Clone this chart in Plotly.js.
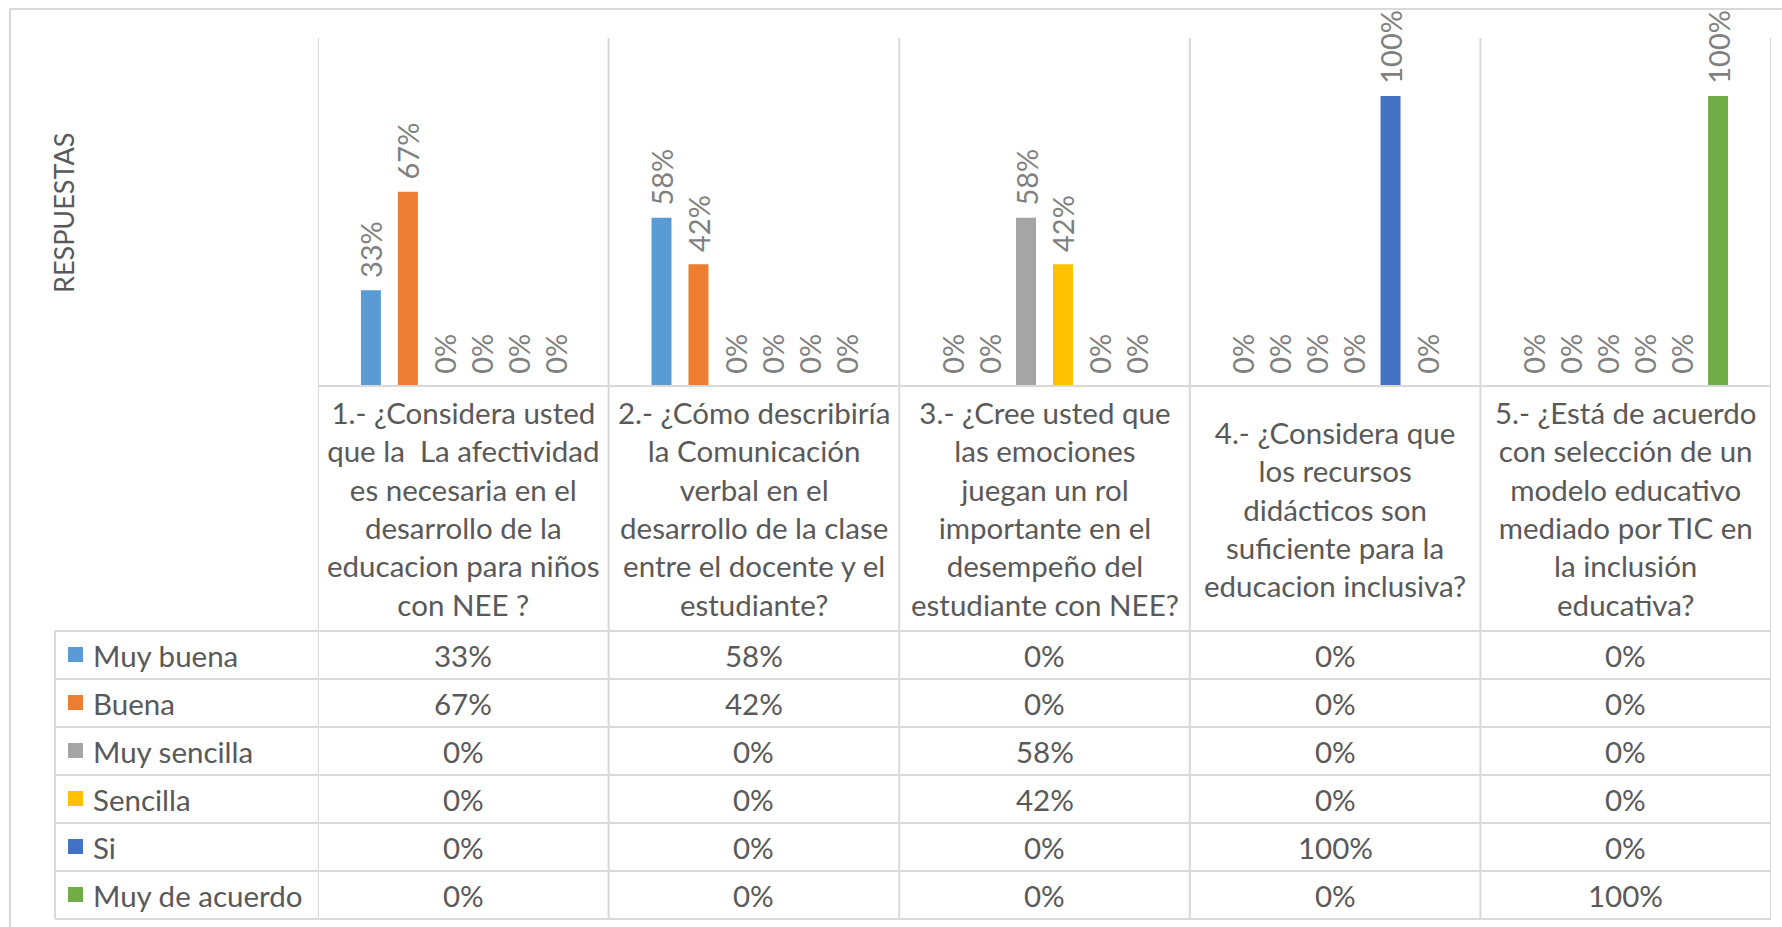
<!DOCTYPE html>
<html><head><meta charset="utf-8">
<script src="https://cdn.plot.ly/plotly-3.0.1.min.js"></script>
<style>html,body{margin:0;padding:0;background:#fff}#chart{width:1782px;height:927px}</style>
</head><body><div id="chart"></div>
<script>
// ---- data ----
const categories = [
  "1.- ¿Considera usted<br>que la  La afectividad<br>es necesaria en el<br>desarrollo de la<br>educacion para niños<br>con NEE ?",
  "2.- ¿Cómo describiría<br>la Comunicación<br>verbal en el<br>desarrollo de la clase<br>entre el docente y el<br>estudiante?",
  "3.- ¿Cree usted que<br>las emociones<br>juegan un rol<br>importante en el<br>desempeño del<br>estudiante con NEE?",
  "4.- ¿Considera que<br>los recursos<br>didácticos son<br>suficiente para la<br>educacion inclusiva?",
  "5.- ¿Está de acuerdo<br>con selección de un<br>modelo educativo<br>mediado por TIC en<br>la inclusión<br>educativa?"
];
const seriesNames = ["Muy buena", "Buena", "Muy sencilla", "Sencilla", "Si", "Muy de acuerdo"];
const muyBuena     = [0.33, 0.58, 0, 0, 0];
const buena        = [0.67, 0.42, 0, 0, 0];
const muySencilla  = [0, 0, 0.58, 0, 0];
const sencilla     = [0, 0, 0.42, 0, 0];
const si           = [0, 0, 0, 1, 0];
const muyDeAcuerdo = [0, 0, 0, 0, 1];
const seriesValues = [muyBuena, buena, muySencilla, sencilla, si, muyDeAcuerdo];
const seriesColors = ["#5B9BD5", "#ED7D31", "#A5A5A5", "#FFC000", "#4472C4", "#70AD47"];
const yTitle = "RESPUESTAS";

// ---- geometry helpers ----
const W = 1782, H = 927;
const px = x => x / W;
const py = y => 1 - y / H;
const FONT = "Lato, 'Liberation Sans', sans-serif";
const TXT = "#595959";
const GRID = "#D9D9D9";
const plotLeft = 318, plotRight = 1771, plotTop = 38, axisY = 386;
const headerCenter = 508.5;
const tableLeft = 55, rowTop0 = 631, rowH = 48;
const TFS = 29.5;

const fmt = v => Math.round(v * 100) + "%";

const traces = seriesNames.map((name, i) => ({
  type: "bar",
  name: name,
  x: categories,
  y: seriesValues[i],
  marker: {color: seriesColors[i]},
  text: seriesValues[i].map(fmt),
  texttemplate: "\u00a0\u200a%{text}",
  textposition: "outside",
  textangle: -90,
  constraintext: "none",
  cliponaxis: false,
  textfont: {family: FONT, size: 29, color: "#7F7F7F"},
  hoverinfo: "skip"
}));

const shapes = [];
const annotations = [];
const line = (x0, y0, x1, y1, xref) => shapes.push({
  type: "line", xref: xref || "paper", yref: "paper",
  x0: x0, y0: y0, x1: x1, y1: y1,
  line: {color: GRID, width: 2}
});

// outer chart border (top & left visible)
line(px(10), py(9), px(W), py(9));
line(px(10), py(9), px(10), 0);

// category separators
for (let i = 0; i <= categories.length; i++) {
  line(i - 0.5, py(plotTop), i - 0.5, py(rowTop0 + rowH * seriesNames.length), "x");
}
// axis line
line(px(plotLeft), py(axisY), px(plotRight), py(axisY));
// table horizontal lines
for (let r = 0; r <= seriesNames.length; r++) {
  const y = rowTop0 + r * rowH;
  line(px(tableLeft), py(y), px(plotRight), py(y));
}
// legend column left edge
line(px(tableLeft), py(rowTop0), px(tableLeft), py(rowTop0 + rowH * seriesNames.length));

// header labels
categories.forEach(c => annotations.push({
  x: c, xref: "x", y: py(headerCenter), yref: "paper",
  text: c, showarrow: false, align: "center", xanchor: "center", yanchor: "middle",
  font: {family: FONT, size: TFS, color: TXT}
}));

// table rows
seriesNames.forEach((name, r) => {
  const cy = rowTop0 + r * rowH + rowH / 2;
  shapes.push({
    type: "rect", xref: "paper", yref: "paper",
    x0: px(68), x1: px(83), y0: py(cy - 8), y1: py(cy + 7),
    fillcolor: seriesColors[r], line: {width: 0}
  });
  annotations.push({
    x: px(91), xref: "paper", y: py(cy), yref: "paper",
    text: name, showarrow: false, xanchor: "left", yanchor: "middle",
    font: {family: FONT, size: TFS, color: TXT}
  });
  categories.forEach((c, i) => annotations.push({
    x: c, xref: "x", y: py(cy), yref: "paper",
    text: fmt(seriesValues[r][i]), showarrow: false, xanchor: "center", yanchor: "middle",
    font: {family: FONT, size: TFS, color: TXT}
  }));
});

// axis title
annotations.push({
  x: px(63), xref: "paper", y: py(213), yref: "paper",
  text: yTitle, textangle: -90, showarrow: false, xanchor: "center", yanchor: "middle",
  font: {family: FONT, size: 27, color: TXT}
});

const layout = {
  width: W, height: H,
  margin: {l: 0, r: 0, t: 0, b: 0},
  paper_bgcolor: "#ffffff", plot_bgcolor: "#ffffff",
  showlegend: false,
  barmode: "group",
  bargap: 0.237,
  bargroupgap: 0.46,
  font: {family: FONT, color: TXT},
  xaxis: {
    domain: [px(plotLeft), px(plotRight)],
    range: [-0.5, categories.length - 0.5],
    showticklabels: false, showgrid: false, zeroline: false, showline: false, ticks: ""
  },
  yaxis: {
    domain: [py(axisY), py(plotTop)],
    range: [0, 1.2],
    showticklabels: false, showgrid: false, zeroline: false, showline: false, ticks: ""
  },
  shapes: shapes,
  annotations: annotations
};

Plotly.newPlot("chart", traces, layout, {staticPlot: true, displayModeBar: false});
</script>
</body></html>
